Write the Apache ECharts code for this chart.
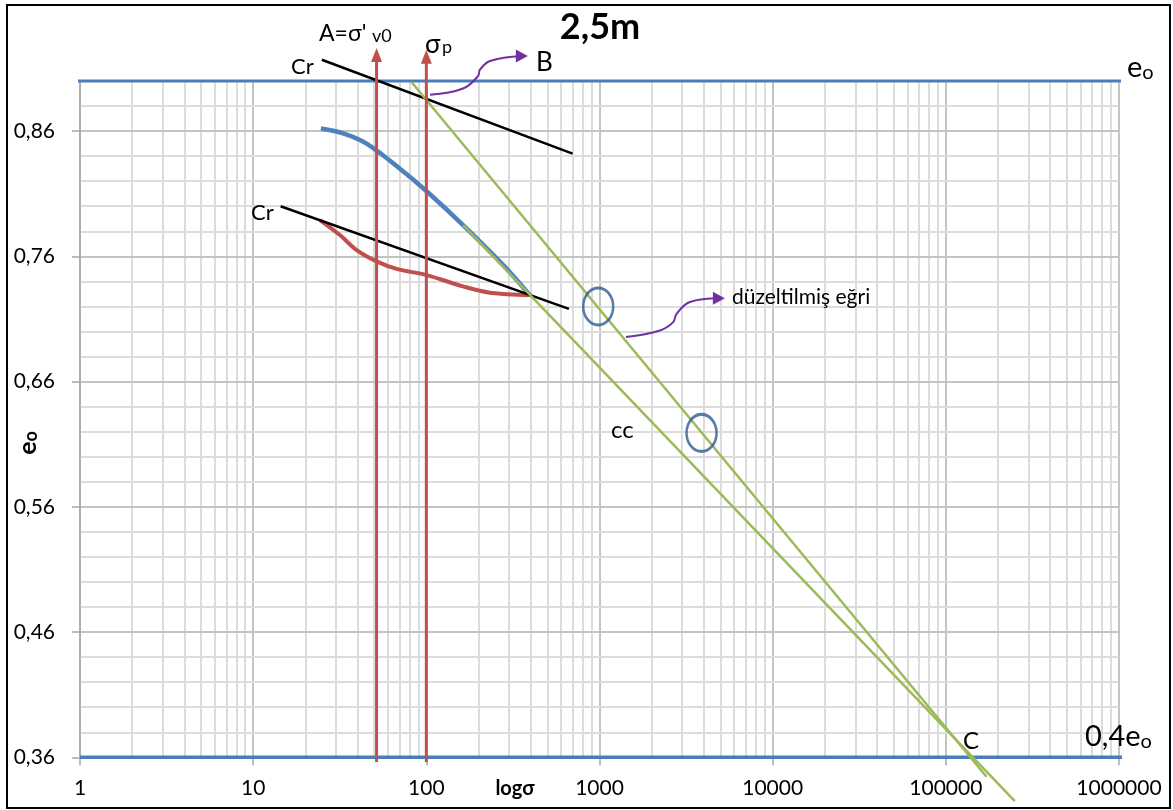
<!DOCTYPE html>
<html><head><meta charset="utf-8">
<script src="https://cdn.jsdelivr.net/npm/echarts@6/dist/echarts.min.js"></script>
<style>html,body{margin:0;padding:0;background:#fff}#c{width:1173px;height:810px}</style>
</head><body><div id="c"></div><script>
// ---- data (σ in kPa on log axis, e void ratio) ----
const xMin = 1, xMax = 1000000;
const yMin = 0.36, yMax = 0.90;
const minorMult = [2,3,4,5,6,7,8,9];
const decades = [1,10,100,1000,10000,100000];
const blueCurve = [[24.6,0.862],[33.4,0.858],[45.2,0.850],[70.4,0.830],[100.4,0.812],[163,0.785],[278,0.753],[396,0.729]];
const redCurve = [[24.3,0.789],[31.7,0.777],[39.6,0.765],[51.6,0.756],[67.4,0.750],[100.4,0.745],[163,0.736],[233,0.731],[396,0.729]];
const crUpper = [[24.9,0.917],[699,0.842]];
const crLower = [[14.4,0.800],[666,0.718]];
const ccLine1 = [[82.3,0.899],[171800,0.3445]];
const ccLine2 = [[163.3,0.785],[250200,0.325]];
const eoLine = [[0.864,0.90],[1.72e6,0.90]];
const e04Line = [[1,0.36],[1.79e6,0.36]];
const sigmaV0 = [[51.6,0.3562],[51.6,0.9208]];
const sigmaP = [[100,0.3562],[100,0.9193]];
const circles = [[983,0.720],[3884,0.619]];
const arrowB = [[105,0.889],[163,0.894],[199,0.904],[204,0.909],[233,0.916],[356,0.920]];
const arrowCurve = [[1420,0.6955],[2232,0.7008],[2665,0.7075],[2787,0.7141],[3327,0.7235],[4892,0.7265]];

const FONT = 'Lato, "Open Sans", sans-serif';
const chart = echarts.init(document.getElementById('c'), null, {renderer:'canvas'});

const minorX = [];
decades.forEach(d => minorMult.forEach(m => minorX.push({xAxis: d*m})));

function line(data, color, width, extra) {
  return Object.assign({type:'line', data: data, symbol:'none', showSymbol:true,
    lineStyle:{color:color, width:width}, itemStyle:{color:color},
    silent:true, animation:false, clip:false, z:3}, extra || {});
}
function arrowData(pts, rot, size) {
  return pts.map((p, i) => i === pts.length - 1
    ? {value:p, symbol:'triangle', symbolSize:size, symbolRotate:rot}
    : {value:p, symbol:'none'});
}
function txt(x, y, text, size, opt) {
  return Object.assign({type:'text', x:x, y:y, z:100, silent:true,
    style:Object.assign({text:text, font:(opt && opt.bold ? 'bold ' : '') + size + 'px ' + FONT,
      fill:'#000', align:'left', verticalAlign:'middle', textAlign:'left', textVerticalAlign:'middle'}, (opt && opt.style) || {})},
    (opt && opt.el) || {});
}

const option = {
  backgroundColor:'#fff',
  animation:false,
  grid:{left:80, top:81, width:1039, height:676.3, containLabel:false},
  xAxis:{type:'log', logBase:10, min:xMin, max:xMax, splitNumber:6,
    axisLine:{show:true, onZero:false, lineStyle:{color:'#a6a6a6', width:1.5}},
    axisTick:{show:true, length:8, lineStyle:{color:'#a6a6a6', width:1.5}},
    axisLabel:{fontFamily:FONT, fontSize:21, color:'#000', margin:20, formatter: v => String(Math.round(v))},
    splitLine:{show:true, lineStyle:{color:'#c4c4c4', width:2}},
    minorTick:{show:false}, minorSplitLine:{show:false}},
  yAxis:[
    {type:'value', min:yMin, max:yMax, interval:0.1,
      axisLine:{show:true, lineStyle:{color:'#a6a6a6', width:1.5}},
      axisTick:{show:true, length:8, lineStyle:{color:'#a6a6a6', width:1.5}},
      axisLabel:{fontFamily:FONT, fontSize:21, color:'#000', margin:25, showMaxLabel:false,
        formatter: v => Math.abs(v - yMax) < 1e-6 ? '' : v.toFixed(2).replace('.', ',')},
      splitLine:{show:true, lineStyle:{color:'#c4c4c4', width:2}}, z:2},
    {type:'value', min:yMin, max:yMax, interval:0.02, position:'left',
      axisLine:{show:false}, axisTick:{show:false}, axisLabel:{show:false},
      splitLine:{show:true, lineStyle:{color:'#dcdcdc', width:2}}, z:1}
  ],
  series:[
    {type:'line', data:[[1,0.36]], symbol:'none', silent:true, z:1, lineStyle:{width:0},
      markLine:{silent:true, z:1, zlevel:0, symbol:['none','none'], label:{show:false}, animation:false,
        lineStyle:{color:'#dcdcdc', width:2, type:'solid'}, emphasis:{disabled:true}, data:minorX}},
    line(eoLine, '#4a7ebb', 3),
    line(e04Line, '#4a7ebb', 3.5),
    line(redCurve, '#c0504d', 4, {smooth:0.35}),
    line(blueCurve, '#4f81bd', 4.5, {smooth:0.35}),
    line(crUpper, '#000', 2.5),
    line(crLower, '#000', 2.5),
    line(ccLine1, '#9bbb59', 2.5),
    line(ccLine2, '#9bbb59', 2.5),
    line(arrowData(sigmaV0, 0, [11,14]), '#c0504d', 3, {z:4}),
    line(arrowData(sigmaP, 0, [11,14]), '#c0504d', 3, {z:4}),
    line(arrowData(arrowB, -90, [13,12]), '#7030a0', 2, {smooth:0.4, z:5}),
    line(arrowData(arrowCurve, -90, [13,12]), '#7030a0', 2, {smooth:0.4, z:5}),
    {type:'scatter', data:circles, symbol:'circle', symbolSize:[30,37], silent:true, z:6,
      itemStyle:{color:'rgba(0,0,0,0)', borderColor:'#2f5d93', borderWidth:2.8}}
  ],
  graphic:[
    {type:'rect', shape:{x:7, y:5, width:1163, height:803}, silent:true, z:100,
      style:{fill:'none', stroke:'#000', lineWidth:2}},
    txt(600, 27, '2,5m', 36, {bold:true, style:{align:'center', textAlign:'center'}}),
    txt(319, 34, "A=σ'", 23),
    txt(372, 36, 'v0', 18),
    txt(425, 45, 'σ', 26),
    txt(442, 47, 'p', 18),
    txt(536, 63, 'B', 26),
    txt(291, 67, 'Cr', 22),
    txt(251, 213, 'Cr', 22),
    txt(1127, 68, '{e|e}{o|o}', 29, {style:{rich:{e:{fontSize:29, fontFamily:'Lato', verticalAlign:'bottom'}, o:{fontSize:20, fontFamily:'Lato', verticalAlign:'bottom'}}}}),
    txt(963, 741, 'C', 24),
    txt(1085, 737, '{e|0,4e}{o|o}', 29, {style:{rich:{e:{fontSize:29, fontFamily:'Lato', verticalAlign:'bottom'}, o:{fontSize:20, fontFamily:'Lato', verticalAlign:'bottom'}}}}),
    txt(732, 297, 'düzeltilmiş eğri', 21),
    txt(611, 430, 'cc', 24),
    txt(515, 789, 'logσ', 20, {bold:true, style:{align:'center', textAlign:'center'}}),
    txt(28, 443, '{e|e}{o|o}', 25, {bold:true, el:{rotation:Math.PI/2}, style:{align:'center', textAlign:'center', rich:{e:{fontSize:25, fontWeight:'bold', fontFamily:'Lato', verticalAlign:'bottom'}, o:{fontSize:18, fontWeight:'bold', fontFamily:'Lato', verticalAlign:'bottom'}}}})
  ]
};
chart.setOption(option);
</script></body></html>
